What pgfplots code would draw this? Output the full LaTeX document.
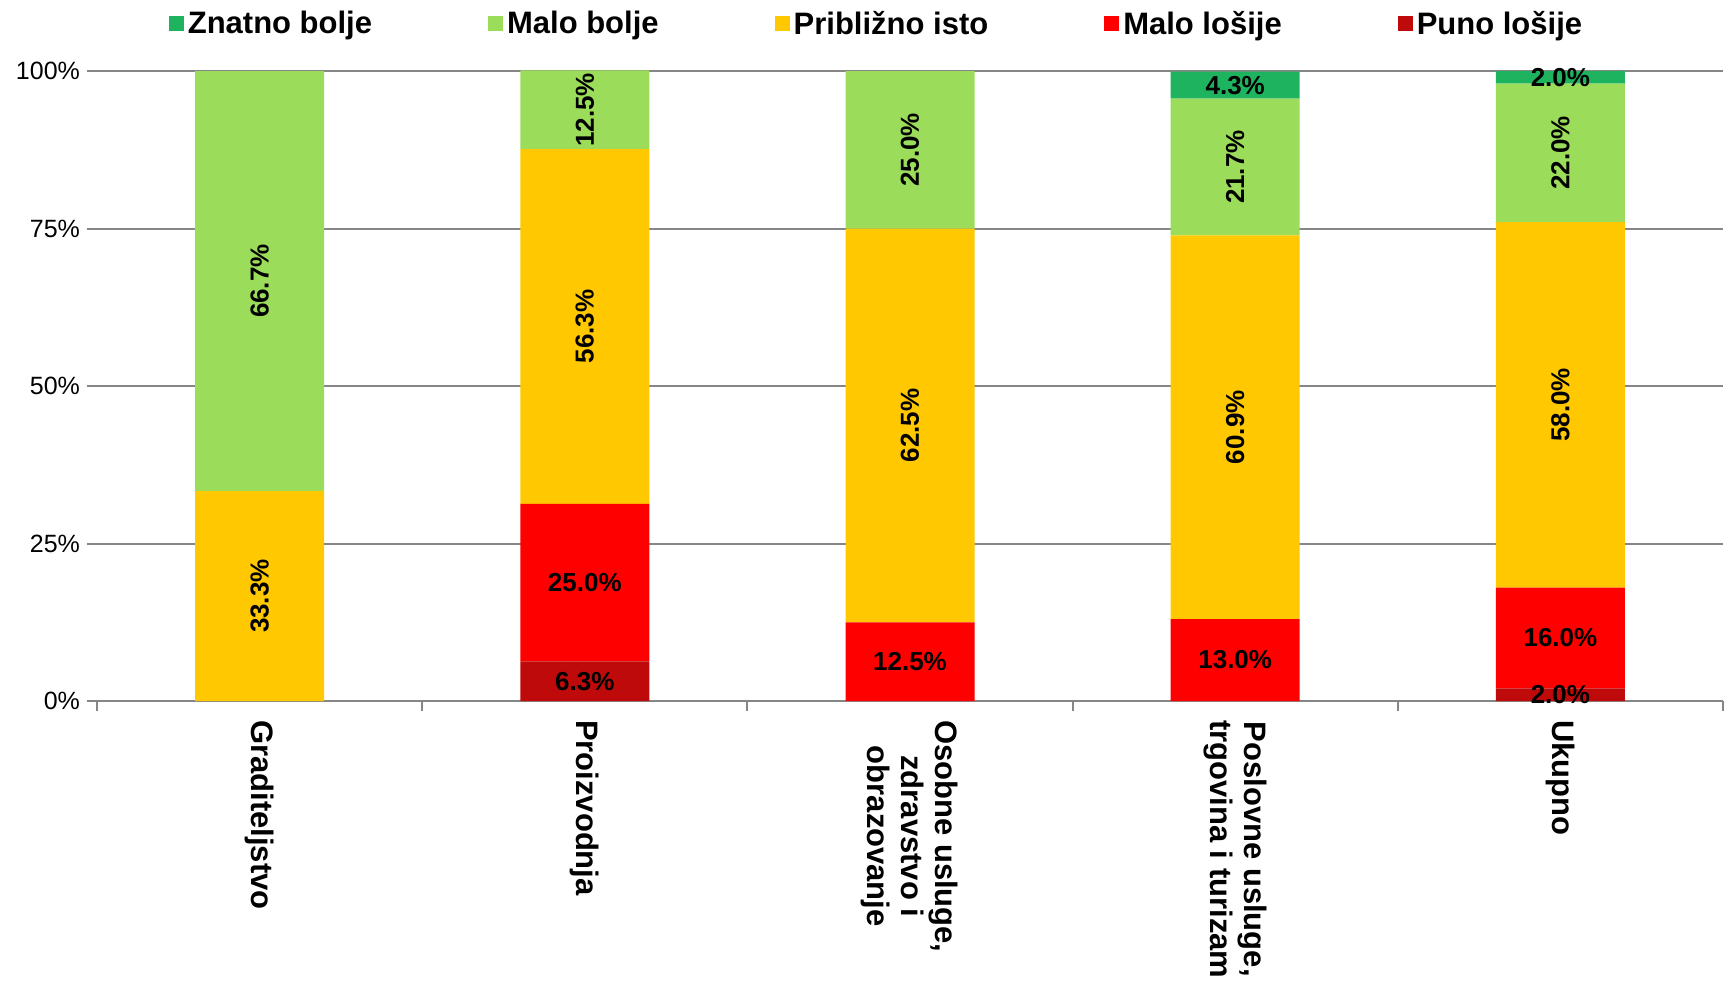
\documentclass[border=0pt]{standalone}
\usepackage{pgfplots}
\pgfplotsset{compat=1.18}
\usepackage{fontspec}
\setmainfont{Liberation Sans}
\definecolor{cZB}{RGB}{30,180,95}
\definecolor{cMB}{RGB}{155,220,90}
\definecolor{cPI}{RGB}{255,200,0}
\definecolor{cML}{RGB}{255,0,0}
\definecolor{cPL}{RGB}{190,10,10}
\definecolor{cGrid}{RGB}{134,134,134}
\begin{document}
\begin{tikzpicture}
\useasboundingbox (0,-144.5pt) rectangle (864.5pt,350.5pt);
\begin{axis}[
  at={(48.5pt,0pt)}, anchor=south west,
  scale only axis, width=813pt, height=315.3pt,
  ybar stacked, bar width=64.5pt,
  xmin=-0.5, xmax=4.5, ymin=0, ymax=100.1,
  axis x line*=bottom, axis y line*=left,
  y axis line style={draw=none},
  x axis line style={draw=cGrid, line width=1pt},
  tick align=outside, major tick length=5pt,
  xtick={-0.5,0.5,1.5,2.5,3.5,4.5}, xticklabels={,,,,,},
  xtick style={draw=cGrid, line width=1pt},
  extra x ticks={0,1,2,3,4},
  extra x tick labels={Graditeljstvo,Proizvodnja,{Osobne usluge,\\zdravstvo i\\obrazovanje},{Poslovne usluge,\\trgovina i turizam},Ukupno},
  extra x tick style={major tick length=0pt, grid=none, xtick style={draw=none},
    xticklabel style={rotate=-90, anchor=west, align=center, font=\bfseries\fontsize{15.5}{17}\selectfont, text=black}},
  xticklabel shift=6pt,
  ytick={0,25,50,75,100}, yticklabels={0\%,25\%,50\%,75\%,100\%},
  ytick style={draw=cGrid, line width=1pt},
  yticklabel style={font=\fontsize{12.5}{14}\selectfont, text=black},
  ymajorgrids, grid style={draw=cGrid, line width=1pt},
  point meta=explicit,
  nodes near coords={\pgfmathfloatifflags{\pgfplotspointmeta}{0}{}{\pgfmathprintnumber[fixed,fixed zerofill,precision=1,assume math mode=true]{\pgfplotspointmeta}\%}},
  every node near coord/.append style={font=\bfseries\fontsize{13}{15}\selectfont, text=black, anchor=center},
  legend style={at={(0.48,1)}, anchor=center, yshift=23.2pt, draw=none, fill=none,
    font=\bfseries\fontsize{15.5}{18}\selectfont,
    /tikz/every even column/.append style={column sep=56pt}},
  legend columns=-1,
  legend image code/.code={\fill[#1] (0pt,-3.75pt) rectangle (7.5pt,3.75pt);},
  reverse legend,
]
\addplot[fill=cPL, draw=none] coordinates {(0,0) [0] (1,6.3) [6.3] (2,0) [0] (3,0) [0] (4,2.0) [2.0]};
\addplot[fill=cML, draw=none] coordinates {(0,0) [0] (1,25.0) [25.0] (2,12.5) [12.5] (3,13.0) [13.0] (4,16.0) [16.0]};
\addplot[fill=cPI, draw=none, every node near coord/.append style={rotate=90}] coordinates {(0,33.3) [33.3] (1,56.3) [56.3] (2,62.5) [62.5] (3,60.9) [60.9] (4,58.0) [58.0]};
\addplot[fill=cMB, draw=none, every node near coord/.append style={rotate=90}] coordinates {(0,66.7) [66.7] (1,12.5) [12.5] (2,25.0) [25.0] (3,21.7) [21.7] (4,22.0) [22.0]};
\addplot[fill=cZB, draw=none] coordinates {(0,0) [0] (1,0) [0] (2,0) [0] (3,4.3) [4.3] (4,2.0) [2.0]};
\legend{Puno lošije,Malo lošije,Približno isto,Malo bolje,Znatno bolje}
\end{axis}
\end{tikzpicture}
\end{document}
